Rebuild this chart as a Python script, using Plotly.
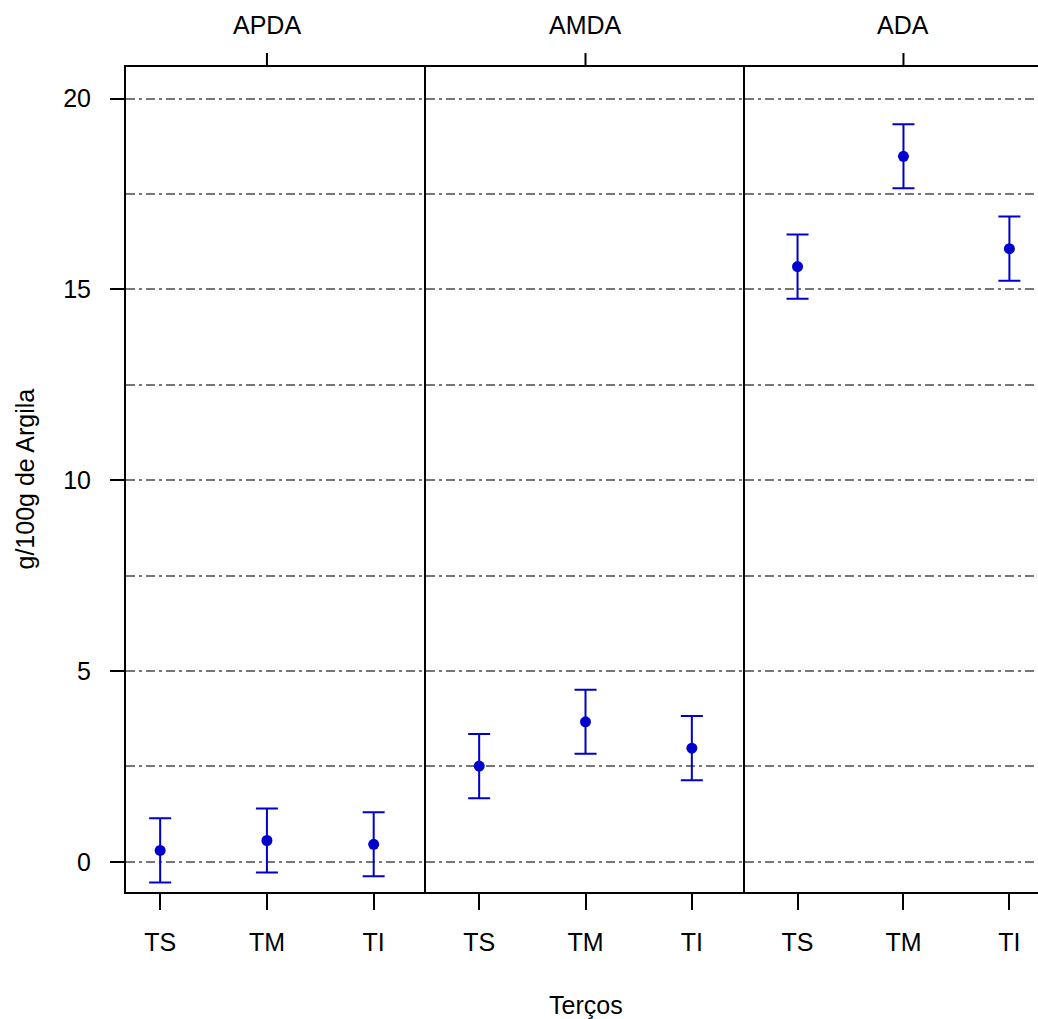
import plotly.graph_objects as go

# Panels (areas) and thirds of the slope
paineis = ["APDA", "AMDA", "ADA"]
tercos = ["TS", "TM", "TI"]

# Mean values (g/100g de Argila) and half-width of the interval
media_apda = [0.30, 0.56, 0.46]
media_amda = [2.51, 3.67, 2.98]
media_ada = [15.60, 18.49, 16.07]
erro_apda = [0.84, 0.84, 0.84]
erro_amda = [0.84, 0.84, 0.84]
erro_ada = [0.84, 0.84, 0.84]

medias = [media_apda, media_amda, media_ada]
erros = [erro_apda, erro_amda, erro_ada]

AZUL = "#0000CC"
CINZA = "#777777"
FONTE = "Liberation Sans, Arial, sans-serif"
TAM = 25

W, H = 1038, 1019
ML, MR, MT, MB = 126, 0, 67, 127
pw = W - ML - MR
ph = H - MT - MB

# panel edges in pixels and the x ranges (category units) shown in each
bordas = [126, 426, 745, 1038]
x_ranges = [[-0.32, 2.49], [-0.50, 2.50], [-0.496, 2.27]]
y_range = [-0.79, 20.83]

fig = go.Figure()

for i, (painel, med, err) in enumerate(zip(paineis, medias, erros)):
    sfx = "" if i == 0 else str(i + 1)
    fig.add_trace(go.Scatter(
        x=tercos, y=med,
        xaxis="x" + sfx, yaxis="y" + sfx,
        mode="markers",
        marker=dict(color=AZUL, size=11, symbol="circle"),
        error_y=dict(type="data", array=err, visible=True,
                     color=AZUL, thickness=2, width=11),
        showlegend=False, hoverinfo="x+y",
    ))

    d0 = (bordas[i] - ML) / pw
    d1 = (bordas[i + 1] - ML) / pw
    fig.layout["xaxis" + sfx] = dict(
        domain=[d0, d1], anchor="y" + sfx,
        type="category", categoryarray=tercos, range=x_ranges[i],
        showline=True, linecolor="black", linewidth=2, mirror=True,
        ticks="outside", ticklen=16, tickwidth=2, tickcolor="black",
        tickfont=dict(family=FONTE, size=TAM, color="black"),
        ticklabelstandoff=11,
        showgrid=False, zeroline=False,
    )
    eixo_y = dict(
        anchor="x" + sfx, domain=[0, 1], range=y_range,
        showline=True, linecolor="black", linewidth=2, mirror=False,
        tickvals=[0, 5, 10, 15, 20],
        showgrid=True, gridcolor=CINZA, gridwidth=2,
        griddash="9px,4px,3px,4px",
        minor=dict(tickvals=[2.5, 7.5, 12.5, 17.5], showgrid=True,
                   gridcolor=CINZA, gridwidth=2,
                   griddash="9px,4px,3px,4px", ticks=""),
        zeroline=False,
    )
    if i == 0:
        eixo_y.update(
            ticks="outside", ticklen=14, tickwidth=2, tickcolor="black",
            tickfont=dict(family=FONTE, size=TAM, color="black"),
            ticklabelstandoff=14,
        )
    else:
        eixo_y.update(ticks="", showticklabels=False, matches="y")
    fig.layout["yaxis" + sfx] = eixo_y

    # strip label above each panel with its tick on the top border
    fig.add_shape(type="line", xref="x" + sfx, yref="paper",
                  x0=1, x1=1, y0=1, y1=1 + 14 / ph,
                  line=dict(color="black", width=2))
    fig.add_annotation(text=painel, xref="x" + sfx, yref="paper",
                       x=1, y=1 + (MT - 25) / ph, yanchor="middle",
                       showarrow=False,
                       font=dict(family=FONTE, size=TAM, color="black"))

fig.add_annotation(text="Terços", xref="paper", yref="paper",
                   x=(586 - ML) / pw, y=-(1005 - (MT + ph)) / ph,
                   yanchor="middle", showarrow=False,
                   font=dict(family=FONTE, size=TAM, color="black"))
fig.add_annotation(text="g/100g de Argila", xref="paper", yref="paper",
                   x=(24 - ML) / pw, y=0.5, xanchor="center",
                   yanchor="middle", textangle=-90, showarrow=False,
                   font=dict(family=FONTE, size=TAM, color="black"))

fig.update_layout(
    width=W, height=H,
    margin=dict(l=ML, r=MR, t=MT, b=MB),
    paper_bgcolor="white", plot_bgcolor="white",
    font=dict(family=FONTE, color="black"),
)

fig.write_html("out.html")
